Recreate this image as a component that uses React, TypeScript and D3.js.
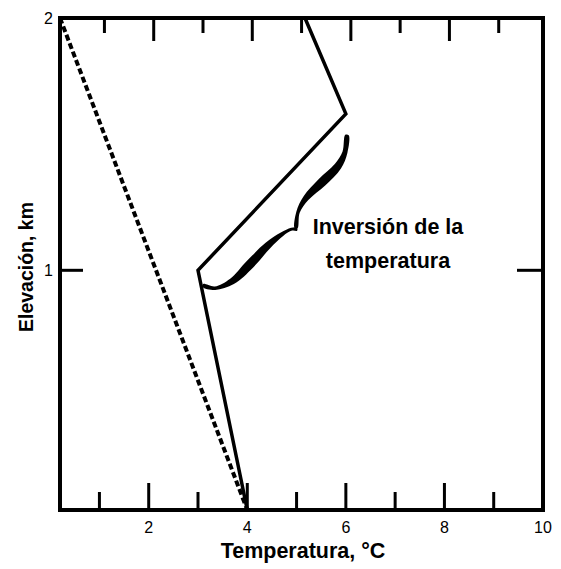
import React from 'react';
import * as d3 from 'd3';

// perfil de temperatura (°C, km)
const profile: [number, number][] = [
  [4, 0.05],
  [3, 1],
  [6, 1.62],
  [5.17, 2],
];

// gradiente adiabático (línea discontinua)
const adiabat: [number, number][] = [
  [0.2, 2],
  [4, 0.05],
];

// llave de la anotación: [temp, elev]
const braceLow: [number, number][] = [
  [3.1, 0.94],
  [3.345, 0.929],
  [3.69, 0.956],
  [4.055, 1.024],
  [4.42, 1.099],
  [4.704, 1.143],
  [4.9, 1.163],
  [5.01, 1.163],
];
const braceHigh: [number, number][] = [
  [4.99, 1.167],
  [5.029, 1.23],
  [5.191, 1.286],
  [5.516, 1.349],
  [5.84, 1.413],
  [5.982, 1.468],
  [6.023, 1.536],
];
const braceLowW = [3, 3.5, 6.5, 9, 7, 4, 3, 3];
const braceHighW = [3, 3.5, 6, 9, 7.5, 5, 3.5];

const xTicks = [1, 2, 3, 4, 5, 6, 7, 8, 9];
const xLabels = [2, 4, 6, 8, 10];
const yLabels = [1, 2];
const annotation = ['Inversión de la', 'temperatura'];

const W = 561;
const H = 569;
const m = { left: 60, right: 18, top: 18, bottom: 59 };
const font = '"Liberation Sans", Arial, Helvetica, sans-serif';

const x = d3.scaleLinear().domain([0.2, 10]).range([m.left, W - m.right]);
const y = d3.scaleLinear().domain([0.05, 2]).range([H - m.bottom, m.top]);

// contorno de un trazo de grosor variable
function taper(pts: [number, number][], widths: number[]) {
  const p = pts.map(d => [x(d[0]), y(d[1])]);
  const left: [number, number][] = [];
  const right: [number, number][] = [];
  p.forEach((pt, i) => {
    const a = p[Math.max(0, i - 1)];
    const b = p[Math.min(p.length - 1, i + 1)];
    const dx = b[0] - a[0];
    const dy = b[1] - a[1];
    const len = Math.hypot(dx, dy) || 1;
    const nx = -dy / len;
    const ny = dx / len;
    const h = widths[i] / 2;
    left.push([pt[0] + nx * h, pt[1] + ny * h]);
    right.push([pt[0] - nx * h, pt[1] - ny * h]);
  });
  const ring = left.concat(right.reverse());
  return d3.line().curve(d3.curveCatmullRomClosed)(ring) as string;
}

export default function App() {
  const line = d3
    .line<[number, number]>()
    .x(d => x(d[0]))
    .y(d => y(d[1]));

  const x0 = m.left;
  const x1 = W - m.right;
  const y0 = H - m.bottom;
  const y1 = m.top;

  return (
    <svg
      width={W}
      height={H}
      style={{ position: 'absolute', left: 0, top: 0, background: '#fff' }}
      fontFamily={font}
    >
      {/* marco */}
      <rect x={x0} y={y1} width={x1 - x0} height={y0 - y1} fill="none" stroke="#000" strokeWidth={4} />

      {/* marcas inferiores y superiores */}
      {xTicks.map(t => (
        <g key={t}>
          <line x1={x(t)} x2={x(t)} y1={y0} y2={y0 - (t % 2 === 0 ? 27 : 18)} stroke="#000" strokeWidth={3} />
          <line x1={x(t) + 5} x2={x(t) + 5} y1={y1} y2={y1 + (t % 2 === 0 ? 23 : 15)} stroke="#000" strokeWidth={3} />
        </g>
      ))}
      {/* marca en 1 km */}
      <line x1={x0} x2={x0 + 23} y1={y(1)} y2={y(1)} stroke="#000" strokeWidth={3} />
      <line x1={x1} x2={x1 - 26} y1={y(1)} y2={y(1)} stroke="#000" strokeWidth={3} />

      {xLabels.map(t => (
        <text key={t} x={x(t)} y={y0 + 23} textAnchor="middle" fontSize={16}>
          {t}
        </text>
      ))}
      {yLabels.map(t => (
        <text key={t} x={x0 - 7} y={y(t) + 6} textAnchor="end" fontSize={16}>
          {t}
        </text>
      ))}

      <path d={line(adiabat) as string} fill="none" stroke="#000" strokeWidth={4} strokeDasharray="6,3" />
      <path d={line(profile) as string} fill="none" stroke="#000" strokeWidth={3.5} strokeLinejoin="miter" />

      <path d={taper(braceLow, braceLowW)} fill="#000" />
      <path d={taper(braceHigh, braceHighW)} fill="#000" />

      {annotation.map((s, i) => (
        <text key={s} x={388} y={234 + i * 34} textAnchor="middle" fontSize={21.5} fontWeight="bold">
          {s}
        </text>
      ))}

      <text x={303} y={558} textAnchor="middle" fontSize={21.5} fontWeight="bold">
        Temperatura, °C
      </text>
      <text
        transform={`translate(33, ${(y0 + y1) / 2 + 3}) rotate(-90)`}
        textAnchor="middle"
        fontSize={19.5}
        fontWeight="bold"
      >
        Elevación, km
      </text>
    </svg>
  );
}
